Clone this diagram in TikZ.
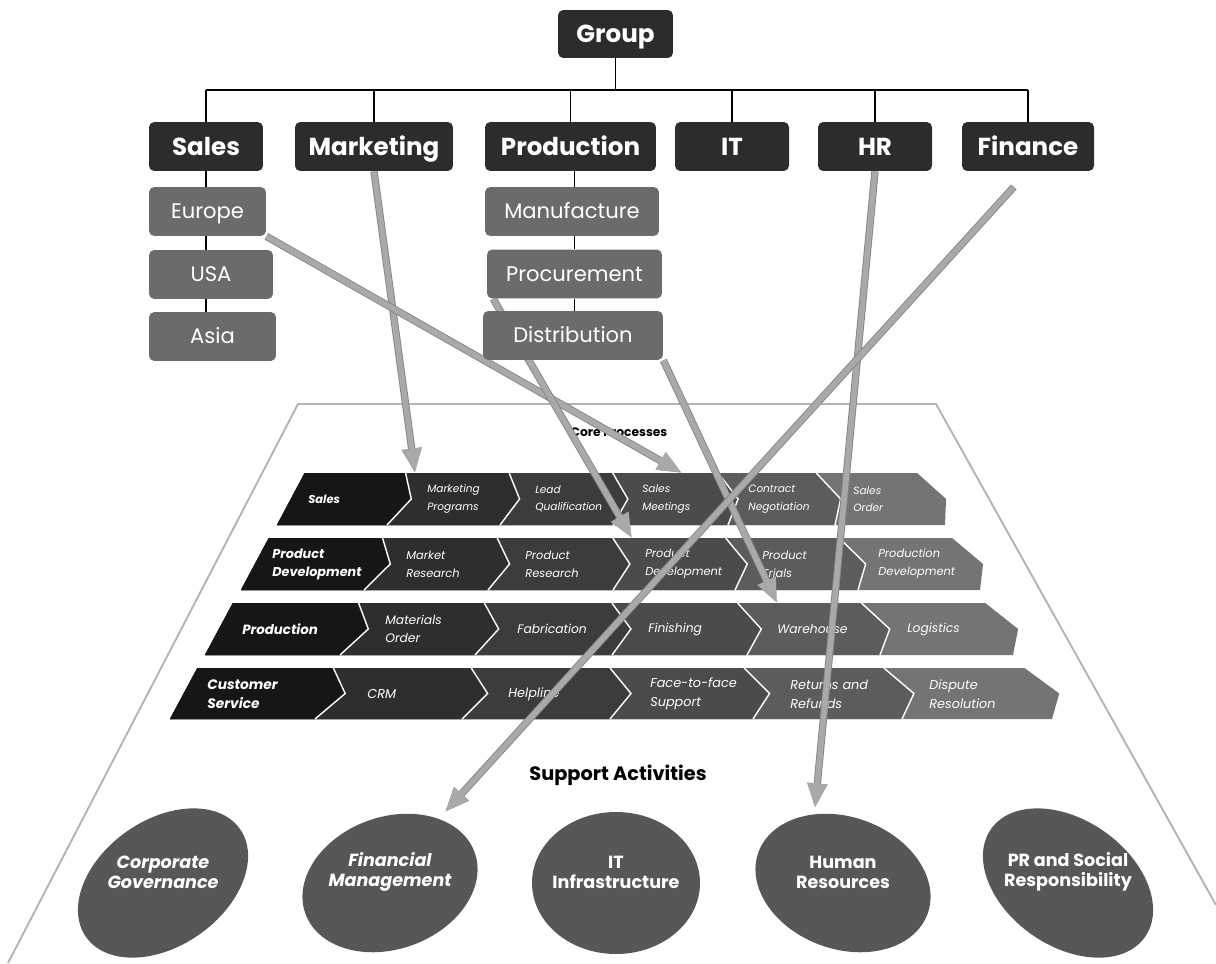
\documentclass[tikz,border=0pt]{standalone}
\usepackage{fontspec}
\setmainfont{Poppins}
\usetikzlibrary{arrows.meta,calc}
\pgfdeclarelayer{floor}
\pgfsetlayers{floor,main}
\definecolor{unitDark}{HTML}{2C2C2C}
\definecolor{unitGray}{HTML}{6B6B6B}
\definecolor{pillarGray}{HTML}{575757}
\definecolor{frameGray}{HTML}{B4B4B4}
\definecolor{feedGray}{HTML}{A9A9A9}
\definecolor{feedEdge}{HTML}{858585}
\definecolor{chev1}{HTML}{161616}
\definecolor{chev2}{HTML}{2E2E2E}
\definecolor{chev3}{HTML}{3C3C3C}
\definecolor{chev4}{HTML}{4B4B4B}
\definecolor{chev5}{HTML}{5C5C5C}
\definecolor{chev6}{HTML}{747474}

\begin{document}
\begin{tikzpicture}[x=0.02cm, y=-0.02cm,
    unit/.style={fill=unitDark, rounded corners=3pt, text=white, inner sep=0pt, minimum height=0.98cm, text height=9.8pt, text depth=0pt, font=\bfseries\fontsize{14}{17}\selectfont},
    subunit/.style={fill=unitGray, rounded corners=3pt, text=white, inner sep=0pt, minimum height=0.98cm, text height=8.4pt, text depth=0pt, font=\fontsize{12}{14}\selectfont},
    link/.style={draw=black, line width=0.9pt},
    frame/.style={draw=frameGray, line width=1.1pt},
    steptext/.style={anchor=west, text=white, align=left, inner sep=0pt},
    pillar/.style={text=white, align=center, inner sep=0pt},
    feed/.style={draw=feedGray, line width=3.2pt, -{Triangle[width=10.5pt,length=14pt]}, preaction={draw=feedEdge, line width=4.2pt}}]
    \useasboundingbox (0,0) rectangle (1216,963);

    \node[unit, minimum width=2.3cm, minimum height=0.96cm] (group) at (615.5,34) {Group};
    \foreach \n/\t/\x/\w in {sales/Sales/206/2.28, mkt/Marketing/374/3.16, prod/Production/570.5/3.42, it/IT/732/2.28, hr/HR/875/2.28, fin/Finance/1028/2.64} {
        \node[unit, minimum width=\w cm] (\n) at (\x,146.5) {\t};
    }
    \foreach \n/\t/\x/\y/\w in {europe/Europe/207.5/211.5/2.34, usa/USA/211/274.5/2.48, asia/Asia/212.5/336.5/2.54, manu/Manufacture/572/211.5/3.48, proc/Procurement/574.5/274/3.5, dist/Distribution/573/335.5/3.6} {
        \node[subunit, minimum width=\w cm] (\n) at (\x,\y) {\t};
    }
    \coordinate (bus) at (615.5,90);
    \draw[link] (group) -- (bus);
    \draw[link] (sales.north |- bus) -- (fin.north |- bus);
    \foreach \n in {sales,mkt,prod,it,hr,fin} {
        \draw[link] (\n.north |- bus) -- (\n.north);
    }
    \foreach \a/\b in {sales/europe, europe/usa, usa/asia} {
        \draw[link] (sales.south |- \a.south) -- (sales.south |- \b.north);
    }
    \foreach \a/\b in {prod/manu, manu/proc, proc/dist} {
        \draw[link] (proc.south |- \a.south) -- (proc.south |- \b.north);
    }

    \begin{pgfonlayer}{floor}
    \draw[frame] (8,963) -- (298,404) -- (936,404) -- (1216,905);

    \coordinate (vp) at (610,-100);
    \foreach \yb/\h/\dp/\xl/\xs in {525/52/15/277/{387,500,613,728,835,945}, 590/52/17/241/{364,488,613,735,858,980}, 655/52/19/205/{340,475,612,747,880,1013}, 719/51/21/170/{315,462,610,753,902,1052}} {
        \pgfmathsetmacro\rtop{(\yb-\h+100)/(\yb+100)}
        \pgfmathsetmacro\rmid{(\yb-\h/2+100)/(\yb+100)}
        \foreach \k in {6,...,1} {
            \pgfmathsetmacro\xb{{\xs}[\k-1]}
            \fill[chev\k] ($(vp)!\rtop!(\xl,\yb)$) -- ($(vp)!\rtop!(\xb,\yb)$) -- ($(vp)!\rmid!(\xb,\yb)+(\dp,0)$) -- (\xb,\yb) -- (\xl,\yb) -- cycle;
        }
        \foreach \k in {1,...,5} {
            \pgfmathsetmacro\xb{{\xs}[\k-1]}
            \draw[white, line width=0.8pt] ($(vp)!\rtop!(\xb,\yb)$) -- ($(vp)!\rmid!(\xb,\yb)+(\dp,0)$) -- (\xb,\yb);
        }
    }

    \node[steptext, font=\bfseries\itshape\fontsize{6.5}{10}\selectfont] (salLead) at (308,499) {Sales};
    \foreach \x/\t [count=\k] in {427/{Marketing\\Programs}, 535/{Lead\\Qualification}, 642/{Sales\\Meetings}, 748/{Contract\\Negotiation}, 853/{Sales\\Order}} {
        \node[steptext, font=\itshape\fontsize{6}{10}\selectfont] (sal\k) at (\x,499) {\t};
    }
    \node[steptext, font=\bfseries\itshape\fontsize{7.3}{10.2}\selectfont] (pdvLead) at (272,564) {Product\\Development};
    \foreach \x/\t [count=\k] in {406/{Market\\Research}, 525/{Product\\Research}, 645/{Product\\Development}, 762/{Product\\Trials}, 878/{Production\\Development}} {
        \node[steptext, font=\itshape\fontsize{6.5}{10.2}\selectfont] (pdv\k) at (\x,564) {\t};
    }
    \node[steptext, font=\bfseries\itshape\fontsize{7.6}{10.5}\selectfont] (prdLead) at (242,629) {Production};
    \foreach \x/\t [count=\k] in {385/{Materials\\Order}, 517/Fabrication, 648/Finishing, 777/Warehouse, 907/Logistics} {
        \node[steptext, font=\itshape\fontsize{7}{10.5}\selectfont] (prd\k) at (\x,629) {\t};
    }
    \node[steptext, font=\bfseries\itshape\fontsize{7.8}{10.8}\selectfont] (cusLead) at (207,694) {Customer\\Service};
    \foreach \x/\t [count=\k] in {367/CRM, 508/Helpline, 650/{Face-to-face\\Support}, 790/{Returns and\\Refunds}, 929/{Dispute\\Resolution}} {
        \node[steptext, font=\itshape\fontsize{7.3}{10.8}\selectfont] (cus\k) at (\x,694) {\t};
    }

    \node[font=\bfseries\fontsize{7}{8}\selectfont] (core) at (619,432) {Core Processes};
    \node[font=\bfseries\fontsize{11}{13}\selectfont] (support) at (618,775) {Support Activities};

    \foreach \x/\r/\a/\b in {163/35/94/63, 390/20/90/66, 616/0/84/71, 843/-20/90/66, 1068/-35/94/63} {
        \fill[pillarGray, rotate around={\r:(\x,883)}] (\x,883) ellipse [x radius=\a, y radius=\b];
    }
    \foreach \n/\x/\s/\t in {cg/163/\itshape/{Corporate\\Governance}, fm/390/\itshape/{Financial\\Management}, iti/616/\upshape/{IT\\Infrastructure}, hrm/843/\upshape/{Human\\Resources}, prs/1068/\upshape/{PR and Social\\Responsibility}} {
        \node[pillar, font=\bfseries\s\fontsize{10}{11.5}\selectfont] (\n) at (\x,872) {\t};
    }

    \coordinate (mp-in) at (415,473);
    \coordinate (sm-in) at (682,473);
    \coordinate (pd-in) at (632,538);
    \coordinate (wh-in) at (777,603);
    \coordinate (hrm-in) at (815,808);
    \coordinate (fm-in) at (445,812);
    \draw[feed] (mkt.south) -- (mp-in);
    \draw[feed] (europe.south east) -- (sm-in);
    \draw[feed] (proc.197) -- (pd-in);
    \draw[feed] (dist.south east) -- (wh-in);
    \draw[feed] (hr.south) -- (hrm-in);
    \draw[feed, shorten <=12pt] (fin.south) -- (fm-in);
    \end{pgfonlayer}
\end{tikzpicture}
\end{document}
